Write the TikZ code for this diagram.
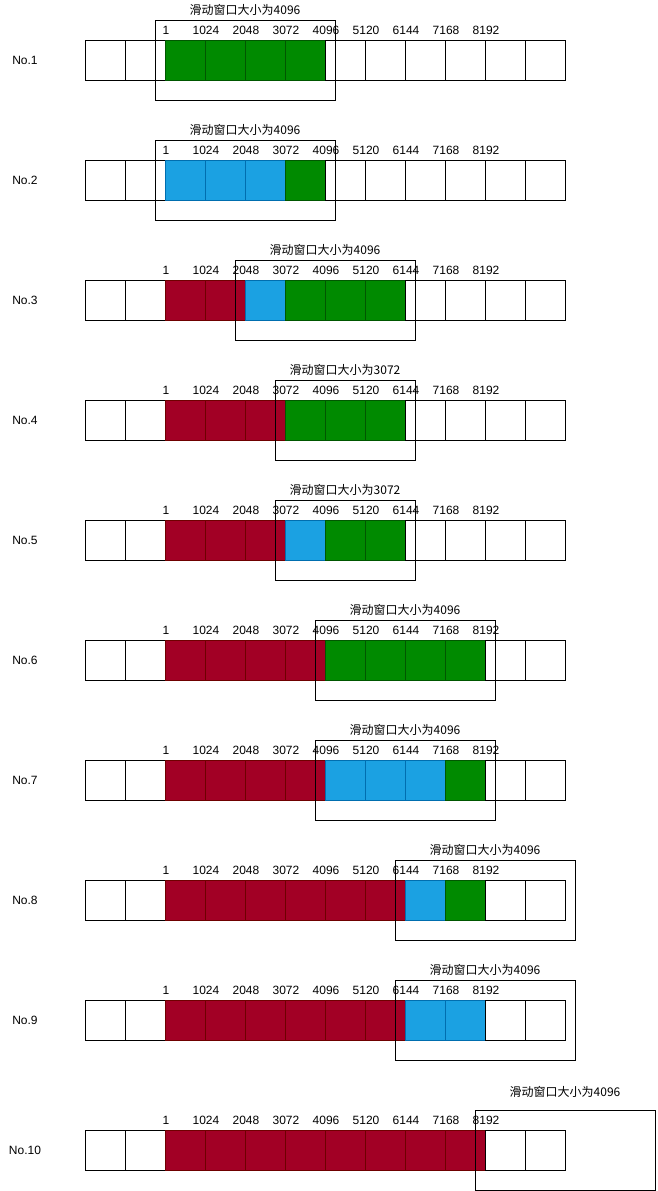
\documentclass[tikz,border=0pt]{standalone}
\usepackage{fontspec}
\setmainfont{Liberation Sans}
\newfontfamily\cjk{Noto Sans CJK SC}
\usepackage{xcolor}
\definecolor{efill}{HTML}{FFFFFF}
\definecolor{eline}{HTML}{000000}
\definecolor{gfill}{HTML}{008A00}
\definecolor{gline}{HTML}{005700}
\definecolor{bfill}{HTML}{1BA1E2}
\definecolor{bline}{HTML}{006EAF}
\definecolor{rfill}{HTML}{A20025}
\definecolor{rline}{HTML}{6F0000}

\begin{document}
\begin{tikzpicture}[x=1pt,y=-1pt,font=\fontsize{12}{14}\selectfont,
  cell/.style={line width=1pt,minimum size=40pt,inner sep=0pt,outer sep=0pt},
  state/.style={fill=#1fill,draw=#1line},
  win/.style={draw,line width=1pt,minimum height=80pt,inner sep=0pt,outer sep=0pt,anchor=north west}]
\useasboundingbox (0,0) rectangle (657,1191);
% row / cells / window left / window width / size / title offset / row shift
\foreach \r/\cols/\wx/\ww/\ws/\toff/\dy in {
  1/{e,e,g,g,g,g,e,e,e,e,e,e}/155/180/4096/30/0,
  2/{e,e,b,b,b,g,e,e,e,e,e,e}/155/180/4096/30/0,
  3/{e,e,r,r,b,g,g,g,e,e,e,e}/235/180/4096/30/0,
  4/{e,e,r,r,r,g,g,g,e,e,e,e}/275/140/3072/30/0,
  5/{e,e,r,r,r,b,g,g,e,e,e,e}/275/140/3072/30/0,
  6/{e,e,r,r,r,r,g,g,g,g,e,e}/315/180/4096/30/0,
  7/{e,e,r,r,r,r,b,b,b,g,e,e}/315/180/4096/30/0,
  8/{e,e,r,r,r,r,r,r,b,g,e,e}/395/180/4096/30/0,
  9/{e,e,r,r,r,r,r,r,b,b,e,e}/395/180/4096/30/0,
  10/{e,e,r,r,r,r,r,r,r,r,e,e}/475/180/4096/38/10}{
  \node (no\r) at (25,120*\r-60+\dy) {No.\r};
  \foreach \s [count=\k from 0] in \cols
    \node[cell,state=\s] (c\r-\k) at (105+40*\k,120*\r-60+\dy) {};
  \node[win,minimum width=\ww pt] (w\r) at (\wx,120*\r-100+\dy) {};
  \node (t\r) at (\wx+\ww/2,120*\r-80-\toff+\dy) {\cjk 滑动窗口大小为\ws};
  \foreach \lab [count=\j from 0] in {1,1024,2048,3072,4096,5120,6144,7168,8192}
    \node (l\r-\j) at (166+40*\j,120*\r-90+\dy) {\lab};
}
\end{tikzpicture}
\end{document}
